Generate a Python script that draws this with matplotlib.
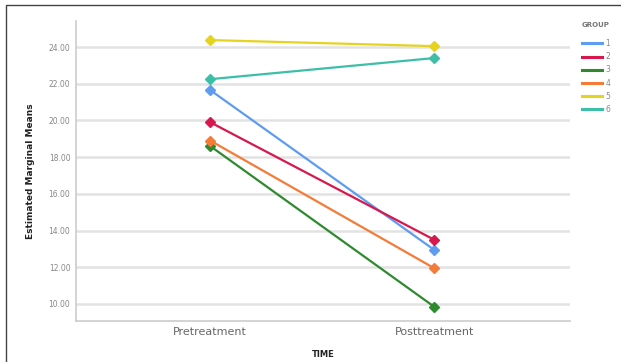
import matplotlib
matplotlib.use("Agg")
import matplotlib.pyplot as plt
from matplotlib.patches import Rectangle
from matplotlib.lines import Line2D

times = ["Pretreatment", "Posttreatment"]
groups = ["1", "2", "3", "4", "5", "6"]
means = {
    "1": [21.65, 12.95],
    "2": [19.9, 13.5],
    "3": [18.6, 9.85],
    "4": [18.9, 11.95],
    "5": [24.38, 24.05],
    "6": [22.25, 23.4],
}
colors = ["#5e9cf0", "#d8184c", "#2f8a2f", "#f47b38", "#e6d320", "#3cbfa6"]
yticks = [10, 12, 14, 16, 18, 20, 22, 24]

fig = plt.figure(figsize=(6.21, 3.62), dpi=100)
fig.patches.append(Rectangle((6/621, -0.1), 1.2, 1 - 5/362 + 0.1, transform=fig.transFigure,
                             fill=False, edgecolor="#444444", linewidth=1.0))
ax = fig.add_axes([76/621, 1 - 321/362, (570 - 76)/621, (321 - 21)/362])
x = list(range(len(times)))
for g, c in zip(groups, colors):
    ax.plot(x, means[g], color=c, linewidth=1.6, marker="D", markersize=5)

ax.set_xlim(-0.6, 1.607)
ax.set_ylim(9.07, 25.42)
ax.set_yticks(yticks)
ax.set_yticklabels([f"{v:.2f}" for v in yticks], fontsize=5.5, color="#888888")
ax.set_xticks(x)
ax.set_xticklabels(times, fontsize=8, color="#666666")
ax.tick_params(axis="both", length=0, pad=4)
ax.yaxis.grid(True, color="#e2e2e2", linewidth=1.8)
ax.set_axisbelow(True)
for s in ["top", "right"]:
    ax.spines[s].set_visible(False)
for s in ["left", "bottom"]:
    ax.spines[s].set_color("#cccccc")
    ax.spines[s].set_linewidth(1.2)
ax.set_ylabel("Estimated Marginal Means", fontsize=6.5, fontweight="bold", color="#222222", labelpad=10)
ax.set_xlabel("TIME", fontsize=6, fontweight="bold", color="#222222", labelpad=10)

handles = [Line2D([], [], color=c, linewidth=2.2) for c in colors]
leg = ax.legend(handles, groups, title="GROUP", loc="upper left",
                bbox_to_anchor=(1.0 + 5/494, 1.0 + 6/300),
                frameon=False, fontsize=5.5, title_fontsize=5, handlelength=2.6,
                labelspacing=0.55, handletextpad=0.5, alignment="left")
for t in leg.get_texts():
    t.set_color("#888888")
leg.get_title().set_color("#777777")
leg.get_title().set_fontweight("bold")
leg._legend_box.sep = 8

fig.savefig("out.png", dpi=100)
